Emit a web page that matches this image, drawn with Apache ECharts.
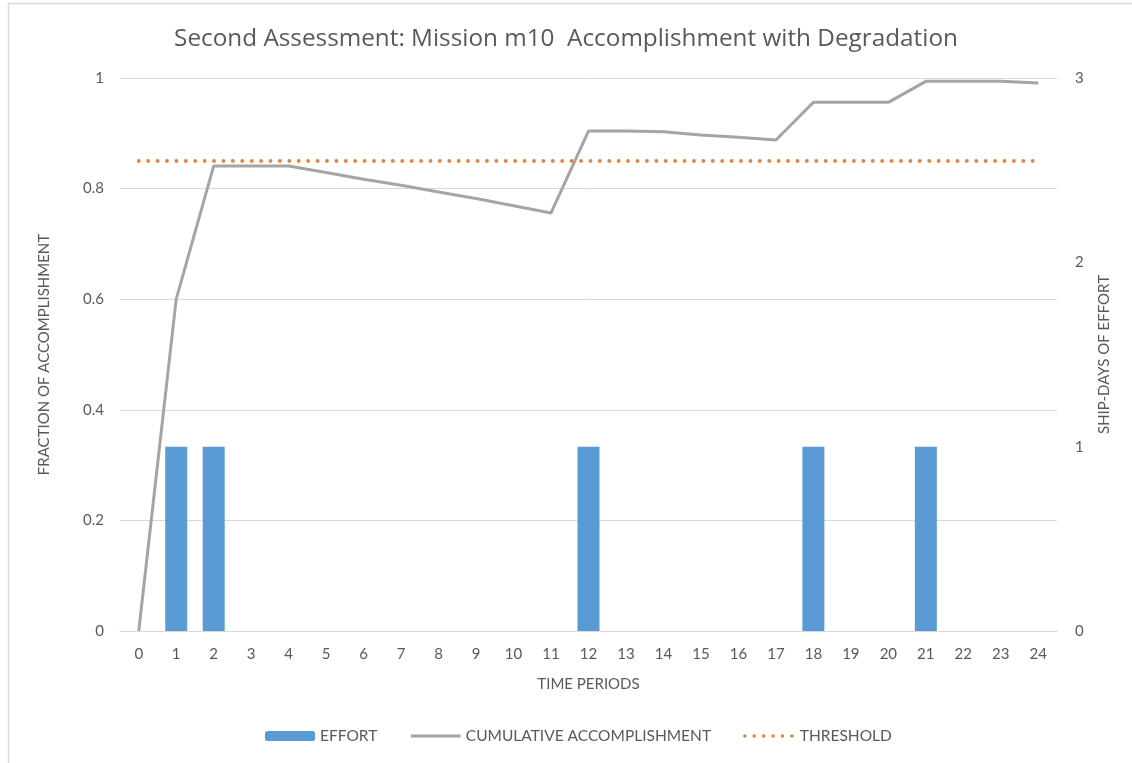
<!DOCTYPE html>
<html>
<head>
  <meta charset="utf-8">
  <title>Second Assessment</title>
  <script src="https://cdn.jsdelivr.net/npm/echarts@6/dist/echarts.min.js"></script>
  <style>
    html, body { margin: 0; padding: 0; background: #fff; }
    #chart { width: 1132px; height: 763px; }
  </style>
</head>
<body>
  <div id="chart"></div>
  <script>
    // data
    const periods = ['0','1','2','3','4','5','6','7','8','9','10','11','12','13','14','15','16','17','18','19','20','21','22','23','24'];
    const effort = [0,1,1,0,0,0,0,0,0,0,0,0,1,0,0,0,0,0,1,0,0,1,0,0,0];
    const cumulative = [0,0.6,0.841,0.841,0.841,0.829,0.817,0.806,0.794,0.782,0.769,0.756,0.904,0.904,0.903,0.897,0.893,0.888,0.956,0.956,0.956,0.994,0.994,0.994,0.991];
    const threshold = [0.85,0.85,0.85,0.85,0.85,0.85,0.85,0.85,0.85,0.85,0.85,0.85,0.85,0.85,0.85,0.85,0.85,0.85,0.85,0.85,0.85,0.85,0.85,0.85,0.85];

    const txt = '#595959';
    const font = 'Lato';
    let chart = echarts.init(document.getElementById('chart'));
    let option = {
      animation: false,
      textStyle: { fontFamily: font },
      title: {
        text: 'Second Assessment: Mission m10  Accomplishment with Degradation',
        left: 'center',
        top: 22,
        textStyle: { color: txt, fontSize: 24.3, fontWeight: 'normal', fontFamily: 'Open Sans' }
      },
      graphic: [
        { type: 'line', shape: { x1: 8, y1: 3.5, x2: 1132, y2: 3.5 }, style: { stroke: '#d9d9d9', lineWidth: 1.5 } },
        { type: 'line', shape: { x1: 8.5, y1: 3, x2: 8.5, y2: 763 }, style: { stroke: '#d9d9d9', lineWidth: 1.5 } }
      ],
      legend: {
        bottom: 14,
        left: 260,
        itemWidth: 50,
        itemHeight: 10,
        itemGap: 32,
        textStyle: { color: txt, fontSize: 15.5, fontFamily: font },
        data: [
          { name: 'EFFORT' },
          { name: 'CUMULATIVE ACCOMPLISHMENT', itemStyle: { opacity: 0 }, lineStyle: { width: 3 } },
          { name: 'THRESHOLD', itemStyle: { opacity: 0 }, lineStyle: { width: 3.5 } }
        ]
      },
      grid: { left: 120, right: 75, top: 78, bottom: 132 },
      xAxis: {
        type: 'category',
        data: periods,
        name: 'TIME PERIODS',
        nameLocation: 'middle',
        nameGap: 46,
        nameTextStyle: { color: txt, fontSize: 15 },
        axisLine: { lineStyle: { color: '#d9d9d9' } },
        axisTick: { show: false },
        axisLabel: { color: txt, fontSize: 15, margin: 16 }
      },
      yAxis: [
        {
          type: 'value',
          min: 0, max: 1, interval: 0.2,
          name: 'FRACTION OF ACCOMPLISHMENT',
          nameLocation: 'middle',
          nameGap: 68,
          nameTextStyle: { color: txt, fontSize: 15 },
          axisLabel: { color: txt, fontSize: 15, margin: 16 },
          splitLine: { lineStyle: { color: '#d9d9d9' } }
        },
        {
          type: 'value',
          min: 0, max: 3, interval: 1,
          name: 'SHIP-DAYS OF EFFORT',
          nameLocation: 'middle',
          nameGap: 40,
          nameTextStyle: { color: txt, fontSize: 15 },
          axisLabel: { color: txt, fontSize: 15, margin: 18 },
          splitLine: { show: false }
        }
      ],
      series: [
        {
          name: 'EFFORT',
          type: 'bar',
          yAxisIndex: 1,
          data: effort,
          barWidth: 22,
          itemStyle: { color: '#5B9BD5' }
        },
        {
          name: 'CUMULATIVE ACCOMPLISHMENT',
          type: 'line',
          data: cumulative,
          symbol: 'none',
          lineStyle: { color: '#A5A5A5', width: 3 },
          itemStyle: { color: '#A5A5A5' }
        },
        {
          name: 'THRESHOLD',
          type: 'line',
          data: threshold,
          symbol: 'none',
          lineStyle: { color: '#ED7D31', width: 3.8, type: [0.01, 9.4], cap: 'round' },
          itemStyle: { color: '#ED7D31' }
        }
      ]
    };
    chart.setOption(option);
  </script>
</body>
</html>
